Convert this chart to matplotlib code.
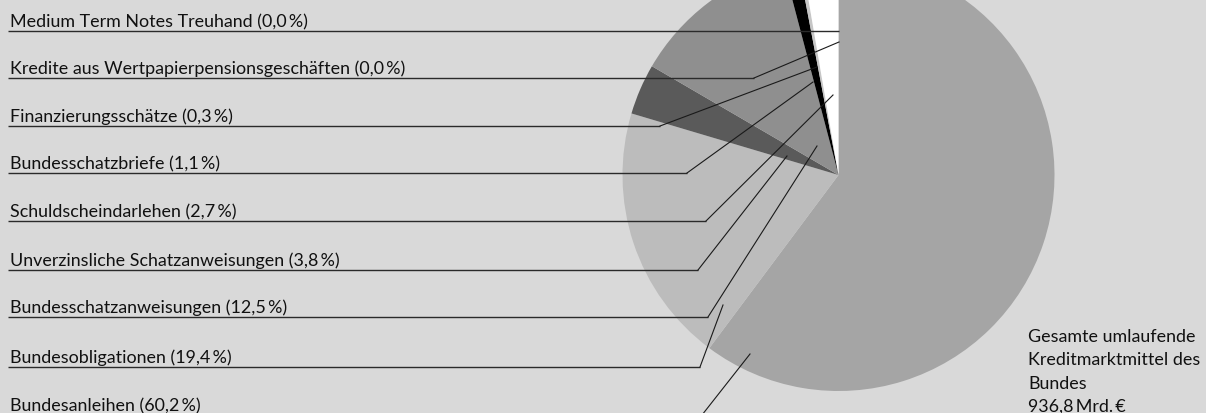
import matplotlib
matplotlib.use("Agg")
import matplotlib.pyplot as plt

plt.rcParams["font.family"] = ["Lato", "DejaVu Sans"]

W, H = 1206, 414

# label order, top to bottom
names = [
    "Medium Term Notes Treuhand",
    "Kredite aus Wertpapierpensionsgeschäften",
    "Finanzierungsschätze",
    "Bundesschatzbriefe",
    "Schuldscheindarlehen",
    "Unverzinsliche Schatzanweisungen",
    "Bundesschatzanweisungen",
    "Bundesobligationen",
    "Bundesanleihen",
]
shares = [0.0, 0.0, 0.3, 1.1, 2.7, 3.8, 12.5, 19.4, 60.2]
slice_colors = ["#ffffff", "#ffffff", "#c6c6c6", "#000000", "#ffffff",
                "#5a5a5a", "#8f8f8f", "#bcbcbc", "#a5a5a5"]
# clockwise order of the wedges, starting at 12 o'clock
pie_order = [8, 7, 5, 6, 3, 2, 4, 1, 0]
total = 936.8

# layout (pixels, origin top left): underline y, elbow x, leader tip
line_y = [32, 79, 127, 174, 222, 271, 318, 368, 416]
elbow_x = [839, 754, 660, 687, 706, 698, 708, 700, 702]
tips = [(839, 32), (839, 43), (817, 68), (813, 83), (833, 96),
        (787, 157), (817, 147), (723, 306), (750, 355)]
center = (838.5, 176)
radius = 216

fig = plt.figure(figsize=(W / 100, H / 100), dpi=100)
fig.patch.set_facecolor("#d9d9d9")
ax = fig.add_axes([0, 0, 1, 1])
ax.set_facecolor("#d9d9d9")

ax.pie([shares[i] for i in pie_order],
       colors=[slice_colors[i] for i in pie_order],
       startangle=90, counterclock=False,
       center=(center[0], H - center[1]), radius=radius,
       wedgeprops=dict(linewidth=0), frame=True)

# fit font size to the reference label width
probe = ax.text(0, 0, "Medium Term Notes Treuhand (0,0\u2009%)", fontsize=12)
fig.canvas.draw()
w = probe.get_window_extent().width
probe.remove()
fs = 12 * 297 / w

for name, val, y, ex, (tx, ty) in zip(names, shares, line_y, elbow_x, tips):
    label = f"{name} ({val:.1f}".replace(".", ",") + "\u2009%)"
    ax.text(10, H - y + 5, label, fontsize=fs, color="#111111",
            ha="left", va="baseline")
    ax.plot([8, ex], [H - y, H - y], color="#2a2a2a", lw=1.0,
            solid_capstyle="butt")
    if (tx, ty) != (ex, y):
        ax.plot([ex, tx], [H - y, H - ty], color="#1a1a1a", lw=0.8)

total_lines = ["Gesamte umlaufende", "Kreditmarktmittel des", "Bundes",
               f"{total:.1f}".replace(".", ",") + "\u2009Mrd.\u2009€"]
for k, txt in enumerate(total_lines):
    ax.text(1028, H - (342 + 23.3 * k), txt, fontsize=fs, color="#111111",
            ha="left", va="baseline")

ax.set_xlim(0, W)
ax.set_ylim(0, H)
ax.set_aspect("auto")
ax.axis("off")

fig.savefig("out.png", dpi=100, facecolor=fig.get_facecolor())
